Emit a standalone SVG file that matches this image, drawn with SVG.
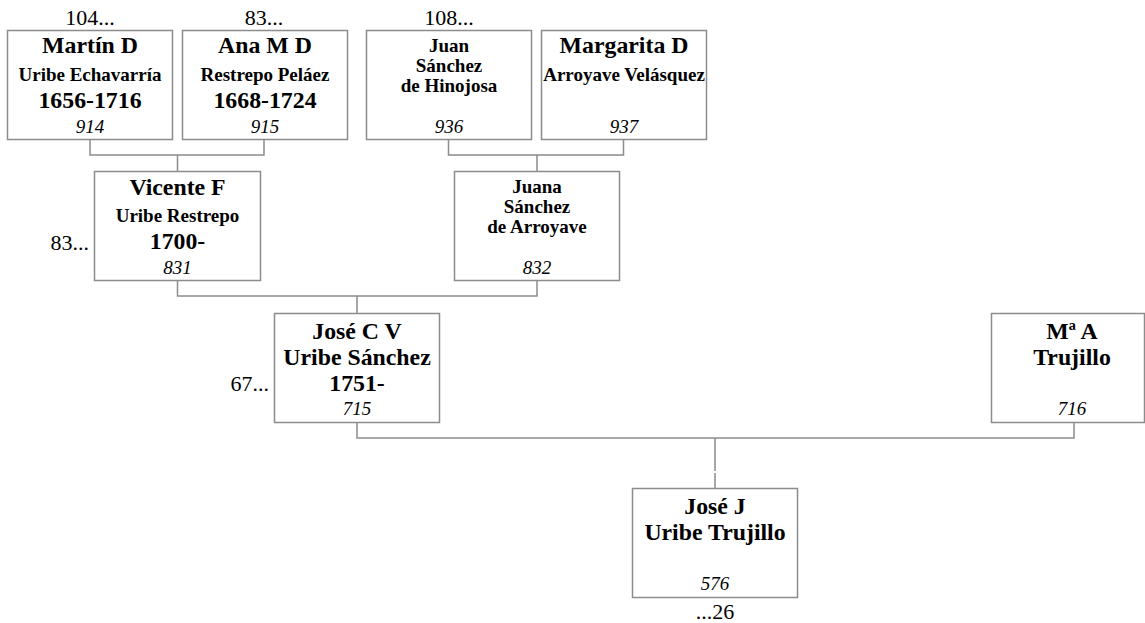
<svg xmlns="http://www.w3.org/2000/svg" width="1145" height="623" viewBox="0 0 1145 623" font-family="'Liberation Serif', 'Times New Roman', Times, 'DejaVu Serif', serif">
<style>
.box{fill:#fff;stroke:#8c8c8c;stroke-width:1.5}
.ln{fill:none;stroke:#8c8c8c;stroke-width:1.5}
text{fill:#000;text-anchor:middle}
.b{font-weight:bold;font-size:23.8px}
.s{font-weight:bold;font-size:19px}
.id{font-style:italic;font-size:19px}
.o{font-size:22px}
.ol{font-size:22px;text-anchor:end}
</style>
<rect width="1145" height="623" fill="#fff"/>
<g id="connectors">
<path class="ln" d="M90,139V155H264V139M177.5,155V171"/>
<path class="ln" d="M448.5,139V155H623.5V139M537,155V171"/>
<path class="ln" d="M177.5,280V296H537V280M357,296V313"/>
<path class="ln" d="M357,422V438H1074V422M715,438V471M715,473V488"/>
</g>
<g id="n914">
<text class="o" x="90" y="25">104...</text>
<rect class="box" x="7.5" y="30.5" width="165" height="109"/>
<text class="b" x="90" y="53">Martín D</text>
<text class="s" x="90" y="81">Uribe Echavarría</text>
<text class="b" x="90" y="108">1656-1716</text>
<text class="id" x="90" y="133">914</text>
</g>
<g id="n915">
<text class="o" x="264" y="25">83...</text>
<rect class="box" x="182.5" y="30.5" width="165" height="109"/>
<text class="b" x="265" y="53">Ana M D</text>
<text class="s" x="265" y="81">Restrepo Peláez</text>
<text class="b" x="265" y="108">1668-1724</text>
<text class="id" x="265" y="133">915</text>
</g>
<g id="n936">
<text class="o" x="449" y="25">108...</text>
<rect class="box" x="366.5" y="30.5" width="165" height="109"/>
<text class="s" x="449" y="52">Juan</text>
<text class="s" x="449" y="72">Sánchez</text>
<text class="s" x="449" y="92">de Hinojosa</text>
<text class="id" x="449" y="133">936</text>
</g>
<g id="n937">
<rect class="box" x="541.5" y="30.5" width="165" height="109"/>
<text class="b" x="624" y="53">Margarita D</text>
<text class="s" x="624" y="81">Arroyave Velásquez</text>
<text class="id" x="624" y="133">937</text>
</g>
<g id="n831">
<text class="ol" x="89" y="250">83...</text>
<rect class="box" x="94.5" y="171.5" width="166" height="109"/>
<text class="b" x="177.5" y="195">Vicente F</text>
<text class="s" x="177.5" y="222">Uribe Restrepo</text>
<text class="b" x="177.5" y="249">1700-</text>
<text class="id" x="177.5" y="274">831</text>
</g>
<g id="n832">
<rect class="box" x="454.5" y="171.5" width="165" height="109"/>
<text class="s" x="537" y="193">Juana</text>
<text class="s" x="537" y="213">Sánchez</text>
<text class="s" x="537" y="233">de Arroyave</text>
<text class="id" x="537" y="274">832</text>
</g>
<g id="n715">
<text class="ol" x="269" y="391">67...</text>
<rect class="box" x="274.5" y="313.5" width="165" height="109"/>
<text class="b" x="357" y="339">José C V</text>
<text class="b" x="357" y="365">Uribe Sánchez</text>
<text class="b" x="357" y="391">1751-</text>
<text class="id" x="357" y="415">715</text>
</g>
<g id="n716">
<rect class="box" x="991.5" y="313.5" width="153" height="109"/>
<text class="b" x="1072" y="339">Mª A</text>
<text class="b" x="1072" y="365">Trujillo</text>
<text class="id" x="1072" y="415">716</text>
</g>
<g id="n576">
<rect class="box" x="632.5" y="488.5" width="165" height="109"/>
<text class="b" x="715" y="514">José J</text>
<text class="b" x="715" y="540">Uribe Trujillo</text>
<text class="id" x="715" y="590">576</text>
<text class="o" x="715" y="619">...26</text>
</g>
</svg>
